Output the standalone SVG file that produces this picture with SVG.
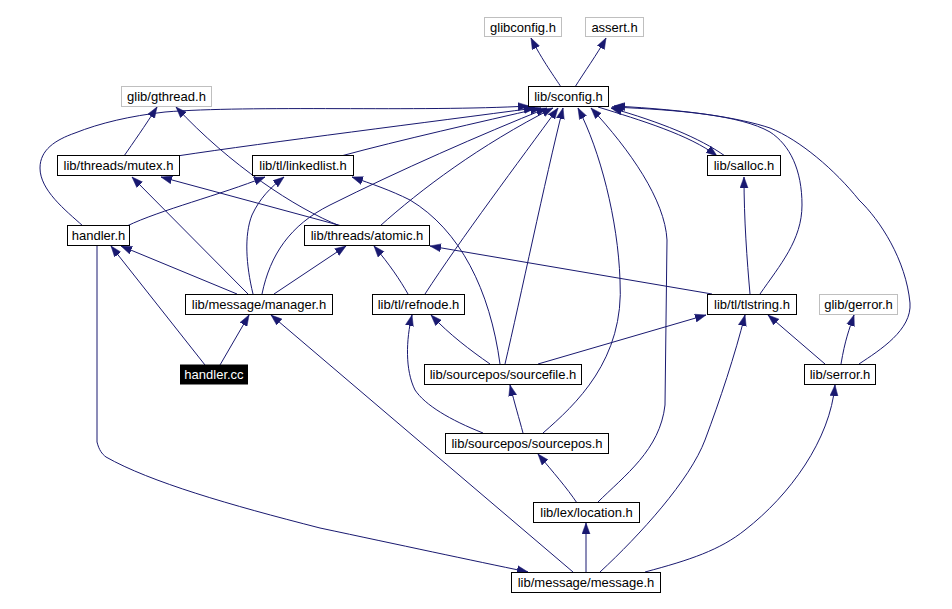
<svg xmlns="http://www.w3.org/2000/svg" width="952" height="609" viewBox="0 0 952 609">
<style>
.n rect{fill:#fff;stroke:#000;stroke-width:1}
.g rect{fill:#fff;stroke:#bfbfbf;stroke-width:1}
text{font-family:"Liberation Sans",Arial,sans-serif;font-size:13px;text-anchor:middle;fill:#000}
.b rect{fill:#000;stroke:none}
.b text{fill:#fff}
#edges path{fill:none;stroke:#191970;stroke-width:1;marker-end:url(#ah)}
</style>
<defs>
<marker id="ah" markerUnits="userSpaceOnUse" markerWidth="12" markerHeight="9" refX="11" refY="4.5" orient="auto">
<path d="M0,0.5 L11,4.5 L0,8.5 z" fill="#191970" stroke="#191970" stroke-width="0.5"/>
</marker>
</defs>
<rect width="952" height="609" fill="#fff"/>
<g id="edges">
<path d="M561,87 C556,79 542,60 531,38"/>
<path d="M575,87 C583,74 598,53 606,38"/>
<path d="M124,156 C133,143 145,126 157,107"/>
<path d="M340,226 C295,208 230,165 176,107"/>
<path d="M342,226 L161,177"/>
<path d="M248,294 L132,177"/>
<path d="M127,226 C160,210 220,195 265,177"/>
<path d="M253,294 C246,265 244,235 252,215 C260,198 270,188 284,177"/>
<path d="M500,364 C490,290 460,230 410,200 C390,190 372,184 352,177"/>
<path d="M83,226 C65,210 40,190 40,168 C40,150 55,140 75,133 C100,123 130,116 165,112 C250,105 420,112 529,106"/>
<path d="M177,156 C270,142 430,122 535,108"/>
<path d="M341,156 C400,140 480,122 541,108"/>
<path d="M262,294 C270,255 290,225 330,205 C400,170 480,135 547,108"/>
<path d="M380,226 C420,190 480,145 553,108"/>
<path d="M425,294 C460,240 520,160 558,108"/>
<path d="M505,364 C520,300 545,180 563,108"/>
<path d="M543,433 C575,405 625,360 620,280 C618,220 600,150 578,108"/>
<path d="M597,503 C625,475 660,450 665,405 L667,240 C665,200 630,150 591,108"/>
<path d="M598,107 C640,120 690,135 717,156"/>
<path d="M725,156 C700,138 660,122 611,108"/>
<path d="M760,294 C780,265 802,240 802,205 C802,170 790,145 770,132 C740,115 680,110 612,107"/>
<path d="M859,364 C880,350 912,330 910,303 C906,260 880,220 859,200 C835,170 800,140 770,128 C740,118 690,110 614,106"/>
<path d="M750,294 C747,260 744,220 744,177"/>
<path d="M712,294 L430,246"/>
<path d="M538,364 L706,315"/>
<path d="M600,572 C640,535 690,480 705,440 C720,400 735,355 745,315"/>
<path d="M825,364 L768,315"/>
<path d="M841,364 C845,340 849,330 854,315"/>
<path d="M645,572 C690,560 720,550 745,530 C790,495 830,440 835,385"/>
<path d="M577,503 C567,488 553,472 538,454"/>
<path d="M586,572 L586,523"/>
<path d="M97,245 L97,442 C99,450 102,454 106,457 C150,482 230,505 320,528 C400,545 470,560 528,572"/>
<path d="M573,572 L271,315"/>
<path d="M205,365 L111,246"/>
<path d="M220,365 L249,315"/>
<path d="M237,294 L121,246"/>
<path d="M274,294 L346,246"/>
<path d="M408,294 C400,280 390,265 374,246"/>
<path d="M490,364 C470,350 450,335 431,315"/>
<path d="M483,433 C450,420 425,405 415,390 C405,370 406,340 412,315"/>
<path d="M523,433 C519,418 515,405 510,385"/>
</g>
<g id="glibconfig" class="g"><rect x="484.5" y="17.5" width="77" height="19"/><text x="523" y="32">glibconfig.h</text></g>
<g id="assert" class="g"><rect x="585.5" y="17.5" width="58" height="19"/><text x="614.5" y="32">assert.h</text></g>
<g id="gthread" class="g"><rect x="121.5" y="86.5" width="90" height="20"/><text x="166.5" y="101">glib/gthread.h</text></g>
<g id="sconfig" class="n"><rect x="528.5" y="86.5" width="80" height="20"/><text x="568.5" y="101">lib/sconfig.h</text></g>
<g id="mutex" class="n"><rect x="57.5" y="155.5" width="122" height="20"/><text x="118.5" y="170">lib/threads/mutex.h</text></g>
<g id="linkedlist" class="n"><rect x="252.5" y="155.5" width="101" height="20"/><text x="303" y="170">lib/tl/linkedlist.h</text></g>
<g id="salloc" class="n"><rect x="707.5" y="155.5" width="73" height="20"/><text x="744" y="170">lib/salloc.h</text></g>
<g id="handler_h" class="n"><rect x="67.5" y="225.5" width="62" height="20"/><text x="98.5" y="240">handler.h</text></g>
<g id="atomic" class="n"><rect x="304.5" y="225.5" width="125" height="20"/><text x="367" y="240">lib/threads/atomic.h</text></g>
<g id="manager" class="n"><rect x="185.5" y="294.5" width="147" height="20"/><text x="259" y="309">lib/message/manager.h</text></g>
<g id="refnode" class="n"><rect x="372.5" y="294.5" width="92" height="20"/><text x="418.5" y="309">lib/tl/refnode.h</text></g>
<g id="tlstring" class="n"><rect x="707.5" y="294.5" width="89" height="20"/><text x="752" y="309">lib/tl/tlstring.h</text></g>
<g id="gerror" class="g"><rect x="819.5" y="294.5" width="78" height="20"/><text x="858.5" y="309">glib/gerror.h</text></g>
<g id="handler_cc" class="b"><rect x="180" y="364.5" width="68" height="20"/><text x="214" y="379">handler.cc</text></g>
<g id="sourcefile" class="n"><rect x="424.5" y="364.5" width="157" height="20"/><text x="503" y="379">lib/sourcepos/sourcefile.h</text></g>
<g id="serror" class="n"><rect x="804.5" y="364.5" width="71" height="20"/><text x="840" y="379">lib/serror.h</text></g>
<g id="sourcepos" class="n"><rect x="445.5" y="433.5" width="163" height="20"/><text x="527" y="448">lib/sourcepos/sourcepos.h</text></g>
<g id="location" class="n"><rect x="533.5" y="502.5" width="106" height="20"/><text x="586.5" y="517">lib/lex/location.h</text></g>
<g id="message" class="n"><rect x="511.5" y="572.5" width="149" height="20"/><text x="586" y="587">lib/message/message.h</text></g>
</svg>
